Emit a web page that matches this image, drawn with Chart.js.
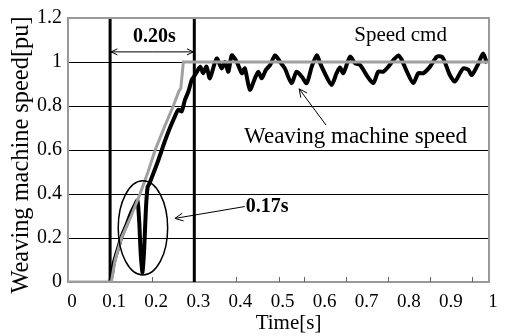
<!DOCTYPE html>
<html>
<head>
<meta charset="utf-8">
<script src="https://cdn.jsdelivr.net/npm/chart.js@4.4.1/dist/chart.umd.min.js"></script>
<style>
  html, body { margin: 0; padding: 0; background: #fff; }
  #wrap { width: 505px; height: 336px; }
</style>
</head>
<body>
<div id="wrap"><canvas id="speedChart" width="505" height="336"></canvas></div>
<script>
// speed command [pu] over time [s]
const cmdTime  = [0, 0.1, 0.103, 0.112, 0.127, 0.15, 0.171, 0.19, 0.207, 0.228, 0.25, 0.264, 0.268, 0.274, 1.0];
const cmdSpeed = [0, 0,   0,     0.1,   0.2,   0.3,  0.4,   0.5,  0.6,   0.7,   0.8,  0.87,  0.88,  1.0,   1.0];

// measured weaving machine speed [pu]
const machTime = [
  0.1, 0.104, 0.108, 0.112, 0.12, 0.127, 0.14, 0.151, 0.159, 0.165,
  0.169, 0.173, 0.177, 0.181, 0.185, 0.189, 0.194, 0.199, 0.211, 0.222,
  0.23, 0.242, 0.254, 0.262, 0.27, 0.278, 0.286, 0.294, 0.298, 0.306,
  0.314, 0.321, 0.329, 0.337, 0.353, 0.365, 0.373, 0.381, 0.389, 0.401,
  0.413, 0.42, 0.432, 0.444, 0.452, 0.46, 0.47, 0.48, 0.492, 0.504,
  0.515, 0.531, 0.543, 0.555, 0.567, 0.579, 0.591, 0.599, 0.61, 0.626,
  0.638, 0.646, 0.654, 0.67, 0.682, 0.694, 0.709, 0.725, 0.737, 0.749,
  0.761, 0.773, 0.785, 0.793, 0.805, 0.82, 0.832, 0.844, 0.86, 0.876,
  0.888, 0.895, 0.907, 0.919, 0.931, 0.939, 0.951, 0.959, 0.975, 0.986, 0.995
];
const machSpeed = [
  0, 0.03, 0.08, 0.11, 0.16, 0.205, 0.265, 0.32, 0.35, 0.37,
  0.28, 0.12, 0.045, 0.15, 0.33, 0.43, 0.45, 0.475, 0.535, 0.595,
  0.64, 0.70, 0.753, 0.783, 0.776, 0.829, 0.866, 0.92, 0.93, 0.955,
  0.979, 0.949, 0.979, 0.926, 1.016, 0.971, 1.0, 0.956, 1.03, 1.0,
  0.949, 0.971, 0.874, 0.926, 0.956, 0.926, 0.964, 0.986, 1.03, 1.0,
  0.971, 0.904, 0.956, 0.934, 0.904, 0.979, 1.03, 0.994, 0.949, 0.896,
  0.949, 0.975, 0.949, 1.024, 0.994, 0.986, 0.941, 0.904, 0.956, 0.956,
  0.979, 1.009, 1.03, 1.009, 0.956, 0.904, 0.949, 0.949, 0.979, 1.024,
  1.024, 1.0, 0.941, 0.911, 0.949, 0.971, 0.964, 0.941, 0.994, 1.039, 0.994
];

// ramp start / end markers and small inner ticks on the time axis
const markerTimes = [0.1, 0.3];
const innerTicks = [0.2, 0.4, 0.5, 0.56, 0.66, 0.76, 0.86, 0.96];

const xTitle = "Time[s]";
const yTitle = "Weaving machine speed[pu]";

const SERIF = "'Liberation Serif', 'Times New Roman', serif";
const GRAY = "#a0a0a0";
const FRAME = "#999999";

function toPoints(xs, ys) {
  return xs.map((t, i) => ({ x: t, y: ys[i] }));
}

// 0.5 -> "0.5", 1.0 -> "1"
const shortNum = v => String(+v.toFixed(1));

function openArrow(ctx, x1, y1, x2, y2, size) {
  const ang = Math.atan2(y2 - y1, x2 - x1);
  ctx.beginPath();
  ctx.moveTo(x1, y1);
  ctx.lineTo(x2, y2);
  ctx.moveTo(x2 - size * Math.cos(ang - 0.45), y2 - size * Math.sin(ang - 0.45));
  ctx.lineTo(x2, y2);
  ctx.lineTo(x2 - size * Math.cos(ang + 0.45), y2 - size * Math.sin(ang + 0.45));
  ctx.stroke();
}

const notes = {
  id: "notes",
  beforeDatasetsDraw(chart) {
    const { ctx, chartArea: a, scales: { x, y } } = chart;
    ctx.save();
    ctx.strokeStyle = "#666";
    ctx.lineWidth = 1;
    innerTicks.forEach(t => {
      const px = Math.round(x.getPixelForValue(t)) + 0.5;
      ctx.beginPath();
      ctx.moveTo(px, a.bottom);
      ctx.lineTo(px, a.bottom - 5);
      ctx.stroke();
    });
    ctx.strokeStyle = "#000";
    ctx.lineWidth = 3;
    markerTimes.forEach(t => {
      const px = x.getPixelForValue(t);
      ctx.beginPath();
      ctx.moveTo(px, y.getPixelForValue(0));
      ctx.lineTo(px, y.getPixelForValue(1.2));
      ctx.stroke();
    });
    ctx.restore();
  },
  afterDatasetsDraw(chart) {
    const { ctx, chartArea: a, scales: { x, y } } = chart;
    ctx.save();

    // top and right frame
    ctx.strokeStyle = FRAME;
    ctx.lineWidth = 2;
    ctx.beginPath();
    ctx.moveTo(a.left, a.top);
    ctx.lineTo(a.right, a.top);
    ctx.lineTo(a.right, a.bottom);
    ctx.stroke();

    ctx.strokeStyle = "#000";
    ctx.fillStyle = "#000";
    ctx.lineWidth = 1;

    // 0.20s span between the markers
    const ySpan = y.getPixelForValue(1.046);
    const xa = x.getPixelForValue(markerTimes[0]) + 1;
    const xb = x.getPixelForValue(markerTimes[1]) - 1;
    const xm = (xa + xb) / 2;
    openArrow(ctx, xm, ySpan, xa, ySpan, 7);
    openArrow(ctx, xm, ySpan, xb, ySpan, 7);

    // ellipse round the dip
    ctx.lineWidth = 1.5;
    ctx.beginPath();
    ctx.ellipse(x.getPixelForValue(0.178), y.getPixelForValue(0.246),
      x.getPixelForValue(0.0587) - x.getPixelForValue(0),
      y.getPixelForValue(0) - y.getPixelForValue(0.214), 0, 0, Math.PI * 2);
    ctx.stroke();

    ctx.lineWidth = 1;
    openArrow(ctx, x.getPixelForValue(0.42), y.getPixelForValue(0.343),
      x.getPixelForValue(0.254), y.getPixelForValue(0.289), 9);
    openArrow(ctx, x.getPixelForValue(0.613), y.getPixelForValue(0.713),
      x.getPixelForValue(0.549), y.getPixelForValue(0.878), 9);

    ctx.textBaseline = "middle";
    ctx.textAlign = "center";
    ctx.font = "bold 20px " + SERIF;
    ctx.fillText("0.20s", x.getPixelForValue(0.205), y.getPixelForValue(1.114));
    ctx.textAlign = "left";
    ctx.fillText("0.17s", x.getPixelForValue(0.422), y.getPixelForValue(0.343));

    ctx.textAlign = "center";
    ctx.font = "21px " + SERIF;
    ctx.fillText("Speed cmd", x.getPixelForValue(0.79), y.getPixelForValue(1.119));
    ctx.font = "23px " + SERIF;
    ctx.fillText("Weaving machine speed", x.getPixelForValue(0.683), y.getPixelForValue(0.659));
    ctx.restore();
  },
  afterDraw(chart) {
    // axis titles, sitting a little off-centre like the original layout
    const { ctx, chartArea: a } = chart;
    ctx.save();
    ctx.fillStyle = "#000";
    ctx.textAlign = "center";
    ctx.textBaseline = "middle";
    ctx.font = "21px " + SERIF;
    ctx.fillText(xTitle, (a.left + a.right) / 2 + 10, a.bottom + 41);
    ctx.translate(22, (a.top + a.bottom) / 2 + 5);
    ctx.rotate(-Math.PI / 2);
    ctx.font = "24.4px " + SERIF;
    ctx.fillText(yTitle, 0, 0);
    ctx.restore();
  }
};

new Chart(document.getElementById("speedChart"), {
  type: "line",
  data: {
    datasets: [
      {
        label: "Speed cmd",
        data: toPoints(cmdTime, cmdSpeed),
        borderColor: GRAY,
        borderWidth: 3,
        tension: 0,
        pointRadius: 0,
        order: 0
      },
      {
        label: "Weaving machine speed",
        data: toPoints(machTime, machSpeed),
        borderColor: "#000",
        borderWidth: 4,
        tension: 0.25,
        pointRadius: 0,
        order: 1
      }
    ]
  },
  options: {
    responsive: false,
    animation: false,
    devicePixelRatio: 1,
    layout: { padding: { top: 16, right: 16, left: 0, bottom: 0 } },
    plugins: { legend: { display: false }, tooltip: { enabled: false } },
    scales: {
      x: {
        type: "linear",
        min: 0,
        max: 1,
        afterFit: s => { s.height = 54; },
        ticks: {
          stepSize: 0.1,
          autoSkip: false,
          maxRotation: 0,
          padding: 9,
          labelOffset: 4,
          color: "#000",
          font: { family: SERIF, size: 19 },
          callback: shortNum
        },
        grid: { display: false, drawTicks: false },
        border: { display: true, color: FRAME, width: 2 }
      },
      y: {
        min: 0,
        max: 1.2,
        afterFit: s => { s.width = 68; },
        ticks: {
          stepSize: 0.2,
          padding: 6,
          color: "#000",
          font: { family: SERIF, size: 20 },
          callback: shortNum
        },
        grid: {
          drawTicks: false,
          lineWidth: 1,
          color: c => (c.tick && c.tick.value > 0.01 && c.tick.value < 1.19) ? "#000" : "rgba(0,0,0,0)"
        },
        border: { display: true, color: FRAME, width: 2 }
      }
    }
  },
  plugins: [notes]
});
</script>
</body>
</html>
